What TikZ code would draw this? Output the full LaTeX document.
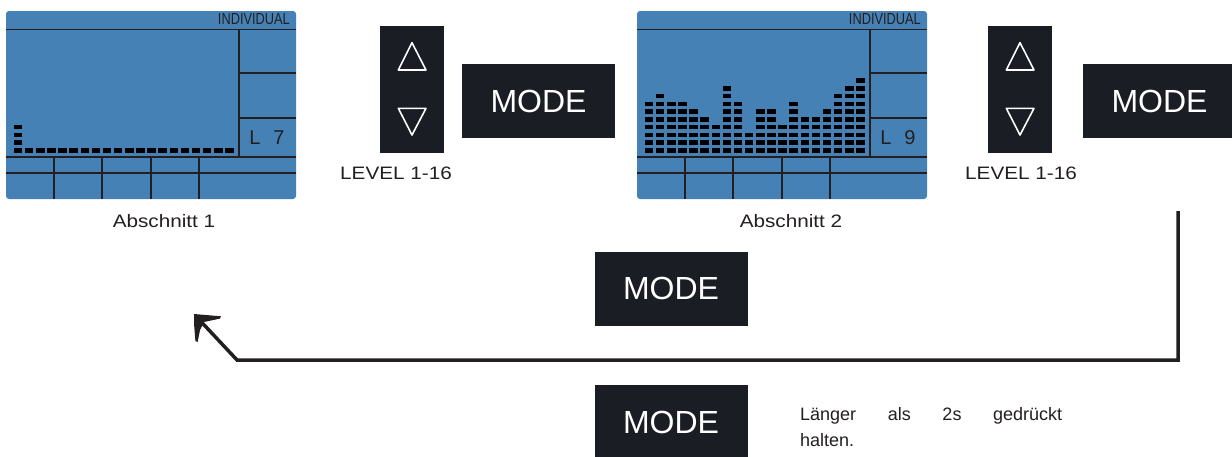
\documentclass[tikz,border=0pt]{standalone}
\usepackage{fontspec}
\setmainfont{Liberation Sans}
\newfontfamily\lblfont[FakeStretch=1.15]{Liberation Sans}
\usetikzlibrary{calc}
\definecolor{lcdblue}{RGB}{69,129,181}
\definecolor{btn}{RGB}{26,30,36}
\definecolor{ink}{RGB}{35,31,32}
\tikzset{
  lcdline/.style={draw=ink, line width=1.6pt},
  modebtn/.style={fill=btn, text=white, minimum width=153pt, minimum height=74pt, inner sep=0pt, font=\fontsize{32}{32}\selectfont},
  udbtn/.style={fill=btn, minimum width=64pt, minimum height=127pt, inner sep=0pt},
  tri/.style={draw=white, line width=1.6pt, line join=round},
  lbl/.style={text=ink, inner sep=0pt, font=\lblfont\fontsize{18}{18}\selectfont},
  note/.style={text=ink, inner sep=0pt, anchor=base west, font=\fontsize{18}{18}\selectfont},
  hdr/.style={text=ink, inner sep=0pt, anchor=east, font=\fontsize{16}{16}\selectfont},
  seg/.style={text=ink, inner sep=0pt, font=\fontsize{20}{20}\selectfont},
  conn/.style={draw=ink, line width=3.5pt, line join=miter}
}
\newcommand{\lcdpanel}[4]{%
  \begin{scope}[shift={(#1,0)}]
    \fill[lcdblue, rounded corners=3pt] (0,11) rectangle (290,199);
    \draw[lcdline] (0,29.5) -- (290,29.5);
    \draw[lcdline] (233,29.5) -- (233,157);
    \draw[lcdline] (233,73) -- (290,73);
    \draw[lcdline] (233,118) -- (290,118);
    \draw[lcdline] (0,157) -- (290,157);
    \draw[lcdline] (0,173) -- (290,173);
    \foreach \xx in {48,96,145,193} \draw[lcdline] (\xx,157) -- (\xx,199);
    \node[hdr] (hdr#2) at (284,19.5) {\scalebox{0.8}[1]{INDIVIDUAL}};
    \node[seg] (segL#2) at (249,138) {L};
    \node[seg] (segD#2) at (273,138) {#3};
    \foreach \hh [count=\ii] in {#4} {
      \foreach \kk in {1,...,\hh} {
        \fill[black] ({12+(\ii-1)*11.13-4.25},{150.3-(\kk-1)*7.75-2.2}) rectangle +(8.5,4.4);
      }
    }
  \end{scope}}
\begin{document}
\begin{tikzpicture}[x=1pt,y=-1pt]
\useasboundingbox (0,0) rectangle (1232,456);
\clip (0,0) rectangle (1232,456);
\fill[white] (0,0) rectangle (1232,456);

% displays
\lcdpanel{6}{a}{7}{4,1,1,1,1,1,1,1,1,1,1,1,1,1,1,1,1,1,1,1}
\lcdpanel{637}{b}{9}{7,8,7,7,6,5,4,9,7,3,6,6,4,7,5,5,6,8,9,10}

% up/down buttons
\node[udbtn] (ud1) at (412,89.5) {};
\draw[tri] (412,42.7) -- (426,70) -- (398.3,70) -- cycle;
\draw[tri] (398.3,108.3) -- (426,108.3) -- (412,135) -- cycle;
\node[udbtn] (ud2) at (1020,89.5) {};
\draw[tri] (1020,42.7) -- (1034,70) -- (1006.3,70) -- cycle;
\draw[tri] (1006.3,108.3) -- (1034,108.3) -- (1020,135) -- cycle;

% MODE buttons
\node[modebtn] (m1) at (538.5,101) {MODE};
\node[modebtn] (m2) at (1159.5,101) {MODE};
\node[modebtn] (m3) at (671,288.5) {MODE};
\node[modebtn] (m4) at (671,422) {MODE};

% labels
\node[lbl] (lv1) at (396,173) {LEVEL 1-16};
\node[lbl] (lv2) at (1021,173) {LEVEL 1-16};
\node[lbl] (ab1) at (164,221) {Abschnitt 1};
\node[lbl] (ab2) at (791,221) {Abschnitt 2};
\node[note] (n1) at (800,420) {\makebox[262pt][s]{Länger als 2s gedrückt}};
\node[note] (n2) at (800,446) {halten.};

% return connector
\coordinate (cA) at (1178,211);
\coordinate (cB) at (1178,360);
\coordinate (cC) at (237,360);
\coordinate (cD) at (199.5,320);
\coordinate (cT) at (194,314);
\draw[conn] (cA) -- (cB) -- (cC) -- (cD);
\fill[ink] (cT) -- (221,316.3) -- (220,318.6) -- (204,322) -- (200,330) -- (197.6,342) -- (195.4,341) -- (194.2,326) -- cycle;
\end{tikzpicture}
\end{document}
